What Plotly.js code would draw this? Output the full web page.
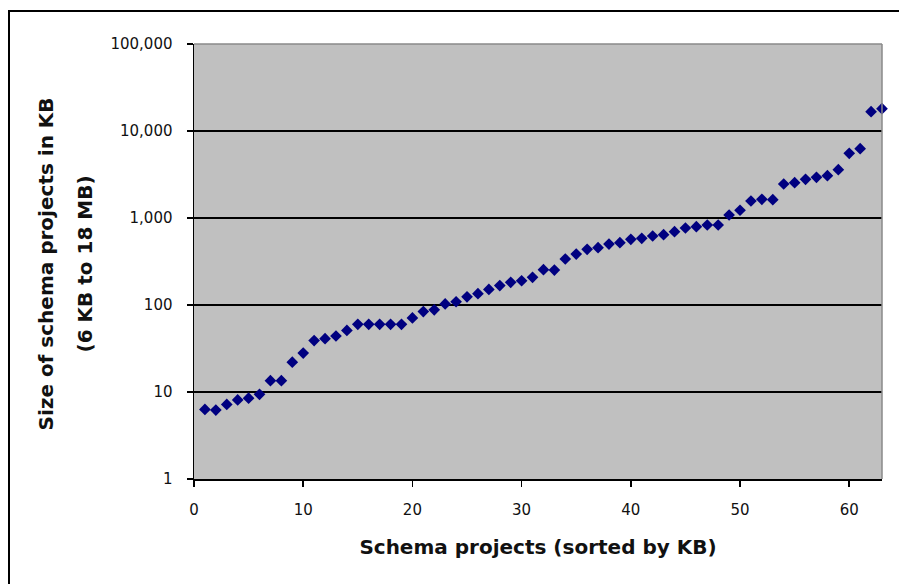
<!DOCTYPE html>
<html>
<head>
<meta charset="utf-8">
<script src="https://cdn.plot.ly/plotly-3.0.1.min.js"></script>
<style>
  html, body { margin: 0; padding: 0; background: #fff; overflow: hidden; }
  #chart { position: absolute; left: 0; top: 0; width: 899px; height: 584px; }
  #frame { position: absolute; left: 8px; top: 10px; width: 1200px; height: 900px;
           border-left: 2px solid #000; border-top: 2px solid #000; pointer-events: none; }
</style>
</head>
<body>
<div id="chart"></div>
<div id="frame"></div>
<script>
// Schema projects ranked by size (index 1..63) and their size in KB
const projectRank = [
  1, 2, 3, 4, 5, 6, 7, 8, 9, 10,
  11, 12, 13, 14, 15, 16, 17, 18, 19, 20,
  21, 22, 23, 24, 25, 26, 27, 28, 29, 30,
  31, 32, 33, 34, 35, 36, 37, 38, 39, 40,
  41, 42, 43, 44, 45, 46, 47, 48, 49, 50,
  51, 52, 53, 54, 55, 56, 57, 58, 59, 60,
  61, 62, 63
];
const sizeKB = [
  6.3, 6.2, 7.2, 8.1, 8.5, 9.4, 13.5, 13.5, 22, 28,
  39, 41, 44, 51, 60, 60, 60, 60, 60, 71,
  84, 88, 103, 109, 124, 135, 151, 167, 182, 190,
  208, 255, 252, 338, 385, 437, 456, 502, 520, 569,
  584, 621, 643, 696, 767, 794, 831, 831, 1082, 1227,
  1568, 1640, 1623, 2459, 2545, 2786, 2937, 3064, 3590, 5543,
  6264, 16670, 18040
];

// Axis ticks
const xTicks = [0, 10, 20, 30, 40, 50, 60];
const yTickVals = [1, 10, 100, 1000, 10000, 100000];
const yTickText = ['1', '10', '100', '1,000', '10,000', '100,000'];

const tickFont = { family: 'DejaVu Sans', size: 15, color: '#111' };
const titleFont = { family: 'DejaVu Sans', size: 20, color: '#111', weight: 'bold' };

const trace = {
  x: projectRank,
  y: sizeKB,
  type: 'scatter',
  mode: 'markers',
  cliponaxis: false,
  marker: { symbol: 'diamond', size: 9, color: '#000080', line: { width: 0 } },
  hoverinfo: 'x+y'
};

const layout = {
  width: 899,
  height: 584,
  margin: { l: 194, r: 17, t: 44, b: 105 },
  paper_bgcolor: '#ffffff',
  plot_bgcolor: '#c0c0c0',
  showlegend: false,
  font: tickFont,
  xaxis: {
    range: [0, 63],
    tickvals: xTicks,
    ticktext: xTicks.map(String),
    ticks: 'outside',
    ticklen: 6,
    tickwidth: 1.5,
    tickcolor: '#000',
    showline: true,
    linecolor: '#000',
    linewidth: 1.5,
    showgrid: false,
    zeroline: false,
    tickfont: tickFont,
    ticklabelstandoff: 10,
    title: { text: 'Schema projects (sorted by KB)', font: titleFont, standoff: 22 }
  },
  yaxis: {
    type: 'log',
    range: [0, 5],
    tickvals: yTickVals,
    ticktext: yTickText,
    ticks: 'outside',
    ticklen: 6,
    tickwidth: 1.5,
    tickcolor: '#000',
    showline: true,
    linecolor: '#000',
    linewidth: 1.5,
    showgrid: true,
    gridcolor: '#000',
    gridwidth: 1.3,
    zeroline: false,
    tickfont: tickFont,
    ticklabelstandoff: 11
  },
  shapes: [
    { type: 'line', xref: 'paper', yref: 'paper', x0: 0, x1: 1, y0: 1, y1: 1,
      line: { color: '#8a8a8a', width: 1.5 } },
    { type: 'line', xref: 'paper', yref: 'paper', x0: 1, x1: 1, y0: 0, y1: 1,
      line: { color: '#8a8a8a', width: 1.5 } }
  ],
  annotations: [
    { text: 'Size of schema projects in KB', xref: 'paper', yref: 'paper',
      x: 0, y: 0.5, xshift: -149, yshift: -3, textangle: -90, showarrow: false,
      xanchor: 'center', yanchor: 'middle', font: titleFont },
    { text: '(6 KB to 18 MB)', xref: 'paper', yref: 'paper',
      x: 0, y: 0.5, xshift: -110, yshift: -3, textangle: -90, showarrow: false,
      xanchor: 'center', yanchor: 'middle', font: titleFont }
  ]
};

Plotly.newPlot('chart', [trace], layout, { staticPlot: true, displayModeBar: false });
</script>
</body>
</html>
